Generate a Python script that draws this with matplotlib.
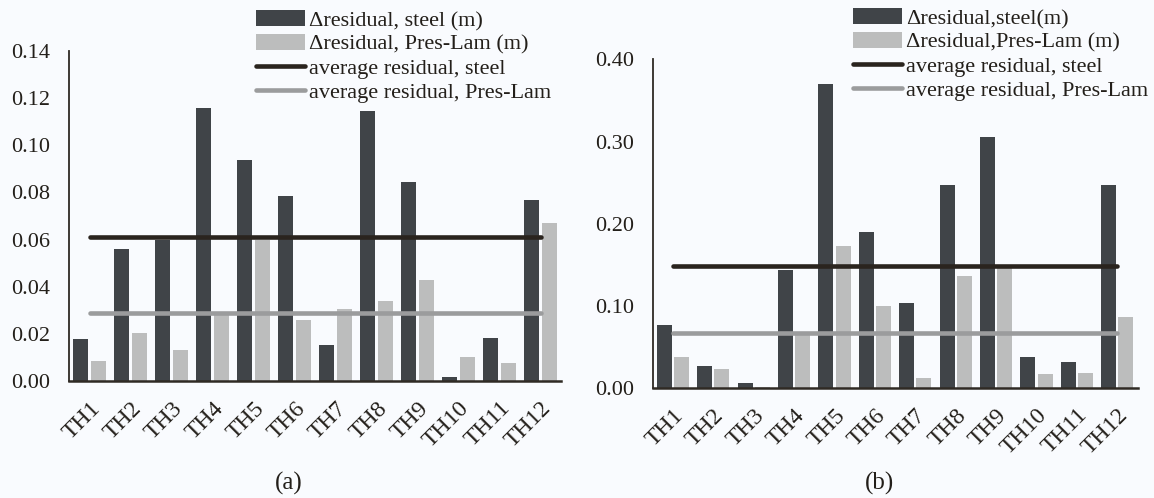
import matplotlib
matplotlib.use("Agg")
import matplotlib.pyplot as plt
import numpy as np

categories = ["TH1", "TH2", "TH3", "TH4", "TH5", "TH6", "TH7", "TH8", "TH9", "TH10", "TH11", "TH12"]

# panel (a)
steel_a = [0.018, 0.0558, 0.060, 0.1160, 0.0939, 0.0786, 0.0154, 0.1146, 0.0846, 0.0018, 0.0182, 0.0766]
preslam_a = [0.0083, 0.0202, 0.0131, 0.028, 0.060, 0.0259, 0.0307, 0.0338, 0.043, 0.0103, 0.0078, 0.0672]
avg_steel_a = 0.061
avg_preslam_a = 0.029
yticks_a = [0.00, 0.02, 0.04, 0.06, 0.08, 0.10, 0.12, 0.14]

# panel (b)
steel_b = [0.0767, 0.0263, 0.0058, 0.144, 0.370, 0.190, 0.1033, 0.2466, 0.3053, 0.0379, 0.0313, 0.2466]
preslam_b = [0.0375, 0.0229, 0.0013, 0.065, 0.173, 0.100, 0.0117, 0.136, 0.147, 0.0171, 0.0188, 0.0863]
avg_steel_b = 0.148
avg_preslam_b = 0.0675
yticks_b = [0.00, 0.10, 0.20, 0.30, 0.40]

labels_a = ["\u0394residual, steel (m)", "\u0394residual, Pres-Lam (m)",
            "average residual, steel", "average residual, Pres-Lam"]
labels_b = ["\u0394residual,steel(m)", "\u0394residual,Pres-Lam (m)",
            "average residual, steel", "average residual, Pres-Lam"]

C_STEEL = "#404448"
C_PRES = "#bcbdbd"
C_AVG_STEEL = "#2a241e"
C_AVG_PRES = "#9b9c9d"
C_AXIS = "#2f2a24"
C_TEXT = "#231f1a"
BG = "#f9fbfe"

plt.rcParams["font.family"] = ["Liberation Serif", "DejaVu Serif"]

W, H = 1154, 498
fig = plt.figure(figsize=(W / 100, H / 100), dpi=100, facecolor=BG)

def px_axes(x0, x1, ytop, ybot):
    return fig.add_axes([x0 / W, 1 - ybot / H, (x1 - x0) / W, (ybot - ytop) / H])

def draw(ax, steel, pres, avg_s, avg_p, yticks, labels, leg_x, leg_y, caption, cap_x):
    ax.set_facecolor(BG)
    x = np.arange(len(categories))
    bw = 0.37
    off = 0.213
    b1 = ax.bar(x - off, steel, width=bw, color=C_STEEL, zorder=2)
    b2 = ax.bar(x + off, pres, width=bw, color=C_PRES, zorder=2)
    l1, = ax.plot([x[0], x[-1]], [avg_s, avg_s], color=C_AVG_STEEL, lw=3.3,
                  solid_capstyle="round", zorder=3)
    l2, = ax.plot([x[0], x[-1]], [avg_p, avg_p], color=C_AVG_PRES, lw=3.3,
                  solid_capstyle="round", zorder=3)
    ax.set_xlim(-0.5, len(categories) - 0.5)
    ax.set_ylim(0, yticks[-1])
    ax.set_yticks(yticks)
    ax.set_yticklabels([f"{v:.2f}" for v in yticks], fontsize=16, color=C_TEXT)
    ax.set_xticks(x)
    ax.set_xticklabels(categories, rotation=45, ha="right", rotation_mode="anchor",
                       fontsize=17, color=C_TEXT)
    ax.tick_params(axis="both", length=0)
    ax.tick_params(axis="y", pad=13.5)
    ax.tick_params(axis="x", pad=12)
    for s in ["top", "right"]:
        ax.spines[s].set_visible(False)
    ax.spines["left"].set_color(C_AXIS)
    ax.spines["left"].set_linewidth(1.3)
    ax.spines["bottom"].set_color(C_AXIS)
    ax.spines["bottom"].set_linewidth(1.8)
    fig.legend([b1, b2, l1, l2], labels, loc="upper left",
               bbox_to_anchor=(leg_x / W, 1 - leg_y / H), frameon=False,
               fontsize=16, borderpad=0, borderaxespad=0,
               handlelength=2.2, handletextpad=0.18, labelspacing=0.15,
               labelcolor=C_TEXT)
    fig.text(cap_x / W, 1 - 483 / H, caption, ha="center", va="center",
             fontsize=18, color=C_TEXT)

ax_a = px_axes(69, 561, 51, 381)
draw(ax_a, steel_a, preslam_a, avg_steel_a, avg_preslam_a, yticks_a, labels_a,
     256, 10.5, "(a)", 289)
ax_b = px_axes(652.7, 1137.5, 59.5, 388)
draw(ax_b, steel_b, preslam_b, avg_steel_b, avg_preslam_b, yticks_b, labels_b,
     853, 8.5, "(b)", 880)

fig.savefig("out.png", dpi=100, facecolor=BG)
